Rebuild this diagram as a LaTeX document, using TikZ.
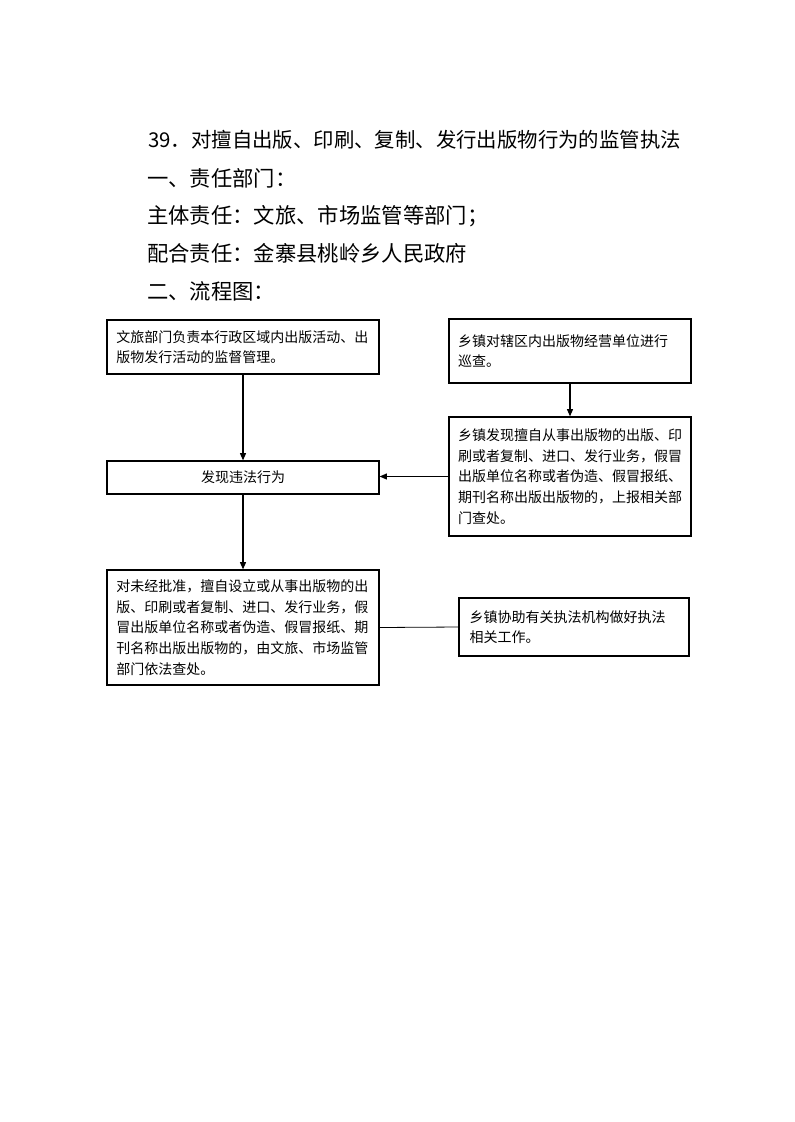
\documentclass[tikz,border=0pt]{standalone}
\usepackage{fontspec}
\setmainfont{Noto Sans CJK SC}
\usetikzlibrary{arrows.meta,positioning,calc}

\tikzset{
    box/.style={draw, line width=0.9pt, align=left, inner xsep=7pt, inner ysep=4pt,
        font=\fontsize{10.5pt}{15.5pt}\selectfont},
    head/.style={anchor=west, inner sep=0pt, font=\fontsize{16pt}{16pt}\selectfont},
    arr/.style={line width=0.9pt, -{Triangle[length=5.5pt,width=4.5pt]}},
}

\begin{document}
\begin{tikzpicture}[x=0.75pt, y=-0.75pt]
    \useasboundingbox (0,0) rectangle (794,1122);

    % Headings
    \node[head, font=\fontsize{15.3pt}{15.3pt}\selectfont] (title) at (148,140) {39．对擅自出版、印刷、复制、发行出版物行为的监管执法};
    \node[head] (dept) at (147,178) {一、责任部门：};
    \node[head] (main) at (147,216) {主体责任：文旅、市场监管等部门；};
    \node[head] (assist) at (147,253) {配合责任：金寨县桃岭乡人民政府};
    \node[head] (flow) at (147,291) {二、流程图：};

    % Left column
    \node[box, text width=190pt, minimum height=40.5pt] (duty) at (243,347)
        {文旅部门负责本行政区域内出版活动、出\\版物发行活动的监督管理。};
    \node[box, align=center, text width=190pt, minimum height=24.75pt] (find) at (243,477.5)
        {发现违法行为};
    \node[box, text width=190pt, minimum height=86.25pt] (punish) at (243,627.5)
        {对未经批准，擅自设立或从事出版物的出\\版、印刷或者复制、进口、发行业务，假\\冒出版单位名称或者伪造、假冒报纸、期\\刊名称出版出版物的，由文旅、市场监管\\部门依法查处。};

    % Right column
    \node[box, inner xsep=6.75pt, text width=168pt, minimum height=48pt] (patrol) at (570,351)
        {乡镇对辖区内出版物经营单位进行\\巡查。};
    \node[box, inner xsep=6.75pt, text width=168pt, minimum height=89.25pt] (report) at (570,476.5)
        {乡镇发现擅自从事出版物的出版、印\\刷或者复制、进口、发行业务，假冒\\出版单位名称或者伪造、假冒报纸、\\期刊名称出版出版物的，上报相关部\\门查处。};
    \node[box, inner xsep=8pt, text width=156.5pt, minimum height=43.5pt] (help) at (574,627)
        {乡镇协助有关执法机构做好执法\\相关工作。};

    % Connectors
    \draw[arr] (duty) -- (find);
    \draw[arr] (patrol) -- (report);
    \draw[arr] (report.west) -- (report.west -| find.east);
    \draw[arr] (find) -- (punish);
    \draw[line width=0.6pt] (punish.east) -- (help.west);
\end{tikzpicture}
\end{document}
